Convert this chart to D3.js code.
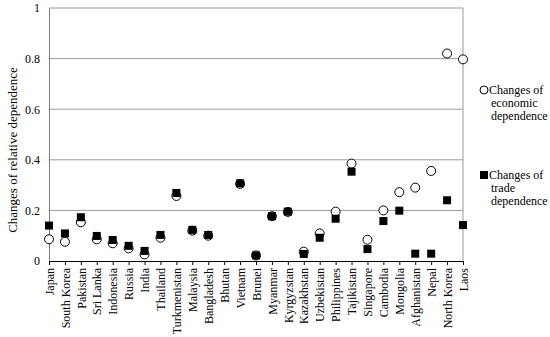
<!DOCTYPE html>
<html>
<head>
<meta charset="utf-8">
<script src="https://cdn.jsdelivr.net/npm/d3@7"></script>
<style>
	body { margin: 0; background: #fff; }
	svg { display: block; }
	svg text { font-family: "Times New Roman", Times, "Liberation Serif", "DejaVu Serif", serif; }
	.grid line { stroke: #9a9a9a; stroke-width: 1; }
	.x-axis path, .x-axis line { stroke: #000; }
	.y-axis path { stroke: #7a7a7a; }
</style>
</head>
<body>
<svg id="chart" width="550" height="337"></svg>
<script>
var countries = ['Japan', 'South Korea', 'Pakistan', 'Sri Lanka', 'Indonesia', 'Russia', 'India',
	'Thailand', 'Turkmenistan', 'Malaysia', 'Bangladesh', 'Bhutan', 'Vietnam', 'Brunei', 'Myanmar',
	'Kyrgyzstan', 'Kazakhstan', 'Uzbekistan', 'Philippines', 'Tajikistan', 'Singapore', 'Cambodia',
	'Mongolia', 'Afghanistan', 'Nepal', 'North Korea', 'Laos'];

// changes of economic dependence (circles)
var economic = [0.086, 0.076, 0.153, 0.086, 0.070, 0.050, 0.026, 0.092, 0.257, 0.120, 0.100, null,
	0.305, 0.022, 0.177, 0.194, 0.037, 0.109, 0.195, 0.385, 0.084, 0.200, 0.272, 0.290, 0.356, 0.820, 0.797];

// changes of trade dependence (squares)
var trade = [0.140, 0.109, 0.173, 0.099, 0.083, 0.060, 0.040, 0.103, 0.269, 0.123, 0.103, null,
	0.307, 0.022, 0.177, 0.195, 0.028, 0.092, 0.167, 0.353, 0.047, 0.158, 0.199, 0.029, 0.029, 0.240, 0.142];

var yTicks = [0, 0.2, 0.4, 0.6, 0.8, 1];

var svg = d3.select('#chart');
var plotLeft = 49, plotRight = 463, plotTop = 8, plotBottom = 261;

var x = d3.scalePoint()
	.domain(countries)
	.range([plotLeft, plotRight])
	.padding(0);

var y = d3.scaleLinear()
	.domain([0, 1])
	.range([plotBottom, plotTop]);

// gridlines
svg.append('g')
	.attr('class', 'grid')
	.selectAll('line')
	.data(yTicks.slice(1))
	.enter().append('line')
	.attr('x1', plotLeft)
	.attr('x2', plotRight)
	.attr('y1', function (d) { return y(d); })
	.attr('y2', function (d) { return y(d); });

// right border
svg.append('line')
	.attr('x1', plotRight).attr('x2', plotRight)
	.attr('y1', plotTop).attr('y2', plotBottom)
	.attr('stroke', '#9a9a9a');

// y axis
var yAxis = svg.append('g')
	.attr('class', 'y-axis')
	.attr('transform', 'translate(' + plotLeft + ',0)')
	.call(d3.axisLeft(y).tickValues(yTicks).tickSize(0).tickPadding(9)
		.tickFormat(function (d) { return d === 0 || d === 1 ? String(d) : d.toFixed(1); }));
yAxis.attr('font-family', null);
yAxis.selectAll('text')
	.attr('font-size', 12)
	.attr('fill', '#000');

// x axis
var xAxis = svg.append('g')
	.attr('class', 'x-axis')
	.attr('transform', 'translate(0,' + plotBottom + ')')
	.call(d3.axisBottom(x).tickSize(4).tickSizeOuter(0));
xAxis.attr('font-family', null);
xAxis.select('.domain').attr('stroke', '#000');
xAxis.selectAll('text')
	.attr('font-size', 12)
	.attr('fill', '#000')
	.attr('text-anchor', 'end')
	.attr('transform', 'rotate(-90)')
	.attr('x', -7)
	.attr('y', 0)
	.attr('dy', '0.35em');

// y title
svg.append('text')
	.attr('transform', 'translate(12,150) rotate(-90)')
	.attr('text-anchor', 'middle')
	.attr('dy', '0.35em')
	.attr('font-size', 13)
	.text('Changes of relative dependence');

// economic dependence circles
svg.append('g')
	.selectAll('circle')
	.data(countries.map(function (c, i) { return { c: c, v: economic[i] }; })
		.filter(function (d) { return d.v !== null; }))
	.enter().append('circle')
	.attr('cx', function (d) { return x(d.c); })
	.attr('cy', function (d) { return y(d.v); })
	.attr('r', 4.5)
	.attr('fill', '#fff')
	.attr('stroke', '#000')
	.attr('stroke-width', 1);

// trade dependence squares
var sq = 8;
svg.append('g')
	.selectAll('rect')
	.data(countries.map(function (c, i) { return { c: c, v: trade[i] }; })
		.filter(function (d) { return d.v !== null; }))
	.enter().append('rect')
	.attr('x', function (d) { return x(d.c) - sq / 2; })
	.attr('y', function (d) { return y(d.v) - sq / 2; })
	.attr('width', sq)
	.attr('height', sq)
	.attr('fill', '#000');

// legend
var legend = svg.append('g').attr('font-size', 12);
legend.append('circle')
	.attr('cx', 484).attr('cy', 90).attr('r', 4)
	.attr('fill', '#fff').attr('stroke', '#000');
legend.append('text')
	.attr('x', 489).attr('y', 90)
	.selectAll('tspan')
	.data(['Changes of', 'economic', 'dependence'])
	.enter().append('tspan')
	.attr('x', function (d, i) { return i === 0 ? 489 : 491; })
	.attr('dy', function (d, i) { return i === 0 ? '0.35em' : 13; })
	.text(function (d) { return d; });

legend.append('rect')
	.attr('x', 480).attr('y', 171).attr('width', 8).attr('height', 8)
	.attr('fill', '#000');
legend.append('text')
	.attr('x', 489).attr('y', 175)
	.selectAll('tspan')
	.data(['Changes of', 'trade', 'dependence'])
	.enter().append('tspan')
	.attr('x', function (d, i) { return i === 0 ? 489 : 491; })
	.attr('dy', function (d, i) { return i === 0 ? '0.35em' : 13; })
	.text(function (d) { return d; });
</script>
</body>
</html>
